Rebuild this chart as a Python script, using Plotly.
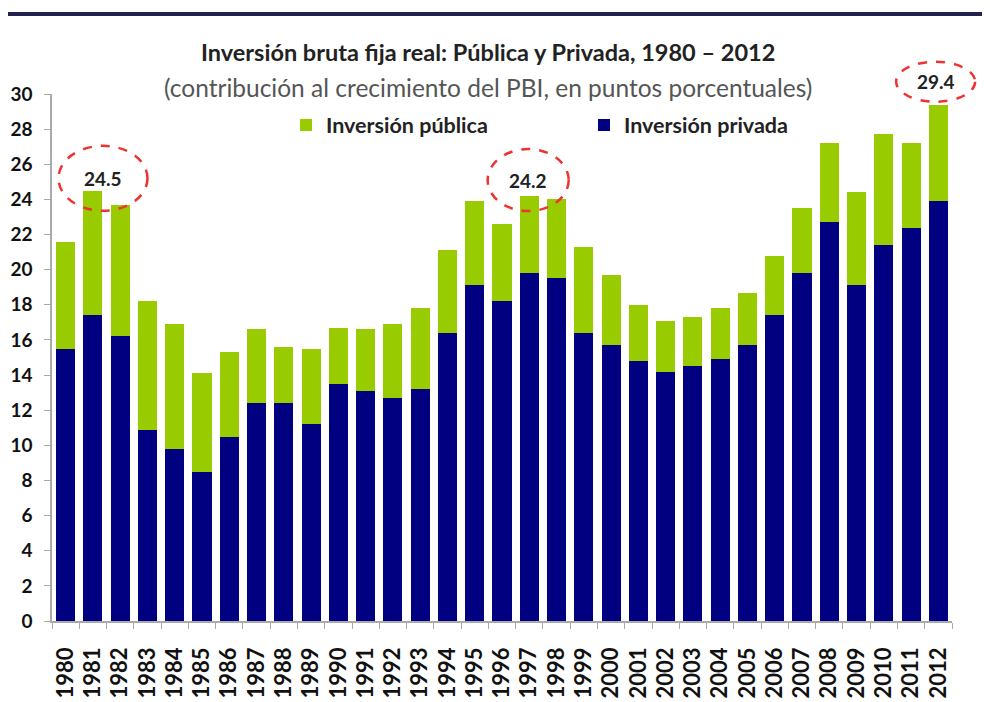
import plotly.graph_objects as go

years = [str(y) for y in range(1980, 2013)]
privada = [15.5, 17.4, 16.2, 10.9, 9.8, 8.5, 10.5, 12.4, 12.4, 11.2, 13.5, 13.1, 12.7, 13.2,
           16.4, 19.1, 18.2, 19.8, 19.5, 16.4, 15.7, 14.8, 14.2, 14.5, 14.9, 15.7, 17.4, 19.8,
           22.7, 19.1, 21.4, 22.4, 23.9]
total = [21.6, 24.5, 23.7, 18.2, 16.9, 14.1, 15.3, 16.6, 15.6, 15.5, 16.7, 16.6, 16.9, 17.8,
         21.1, 23.9, 22.6, 24.2, 24.0, 21.3, 19.7, 18.0, 17.1, 17.3, 17.8, 18.7, 20.8, 23.5,
         27.2, 24.4, 27.7, 27.2, 29.4]
publica = [round(t - p, 1) for t, p in zip(total, privada)]
yticks = list(range(0, 31, 2))
highlights = [("1981", 24.5), ("1997", 24.2), ("2012", 29.4)]

FONT = "Lato, Roboto, sans-serif"
GREEN = "#99CC00"
NAVY = "#000080"

fig = go.Figure()
fig.add_trace(go.Bar(x=years, y=privada, name="Inversión privada", marker_color=NAVY,
                     marker_line_width=0))
fig.add_trace(go.Bar(x=years, y=publica, name="Inversión pública", marker_color=GREEN,
                     marker_line_width=0))

# page body has an 8px margin: figure is placed at (8, 8) of the viewport
OFF = 8
W, H = 990 - OFF, 702 - OFF
L, T = 52 - OFF, 94 - OFF
R = W - (952 - OFF)
B = H - (621 - OFF)
pw, ph = W - L - R, H - T - B
n = len(years)

def paper_x(vx):
    return (vx - 52) / pw

def paper_y(vy):
    return (621 - vy) / ph

# highlight ellipses: (category offset, centre value, width px, height px)
ell = [
    (0.37, 25.2, 89, 65),
    (-0.04, 25.1, 81, 62),
    (-0.1, 30.7, 79, 40),
]
shapes = []
annotations = []
for (dx, yc, w, h), (yr, val) in zip(ell, highlights):
    xc = (years.index(yr) + 0.5 + dx) / n
    ycp = yc / 30.0
    shapes.append(dict(type="circle", xref="paper", yref="paper",
                       x0=xc - w / 2 / pw, x1=xc + w / 2 / pw,
                       y0=ycp - h / 2 / ph, y1=ycp + h / 2 / ph,
                       line=dict(color="#EE3333", width=2.5, dash="dash")))
    annotations.append(dict(xref="paper", yref="paper", x=xc, y=ycp, text=f"<b>{val}</b>",
                            xanchor="center", yanchor="middle",
                            showarrow=False, font=dict(family=FONT, size=19, color="#222222")))

# top dark rule
shapes.append(dict(type="line", xref="paper", yref="paper",
                   x0=paper_x(4), x1=paper_x(995), y0=paper_y(14), y1=paper_y(14),
                   line=dict(color="#22224E", width=4)))

annotations.append(dict(xref="paper", yref="paper", x=paper_x(488), y=paper_y(52),
                        xanchor="center", yanchor="middle",
                        text="<b>Inversión bruta fija real: Pública y Privada, 1980 – 2012</b>",
                        showarrow=False, font=dict(family=FONT, size=23.5, color="#222222")))
annotations.append(dict(xref="paper", yref="paper", x=paper_x(488), y=paper_y(88),
                        xanchor="center", yanchor="middle",
                        text="(contribución al crecimiento del PBI, en puntos porcentuales)",
                        showarrow=False, font=dict(family=FONT, size=24.5, color="#555555")))

fig.update_layout(
    width=W, height=H,
    margin=dict(l=L, r=R, t=T, b=B, autoexpand=False),
    barmode="stack", bargap=0.3,
    plot_bgcolor="white", paper_bgcolor="white",
    showlegend=True,
    legend=dict(orientation="h", x=paper_x(286), xanchor="left", y=paper_y(125),
                yanchor="middle", traceorder="reversed", entrywidth=253, itemwidth=30,
                font=dict(family=FONT, size=21.5, color="#222222", weight="bold"),
                bgcolor="rgba(0,0,0,0)"),
    shapes=shapes,
    annotations=annotations,
    xaxis=dict(type="category", showline=True, linecolor="#AAAAAA", linewidth=1.5,
               ticks="outside", tickson="boundaries", ticklen=6, tickcolor="#AAAAAA",
               tickangle=-90, ticklabelstandoff=16, automargin=False,
               tickfont=dict(family=FONT, size=22, color="#111111", weight="bold"),
               showgrid=False),
    yaxis=dict(range=[0, 30], tickvals=yticks, showline=True, linecolor="#AAAAAA", linewidth=1.5,
               ticks="outside", ticklen=6, tickcolor="#AAAAAA", showgrid=False, zeroline=False,
               ticklabelstandoff=8, automargin=False,
               tickfont=dict(family=FONT, size=19, color="#111111", weight="bold")),
)

fig.write_html("out.html")
